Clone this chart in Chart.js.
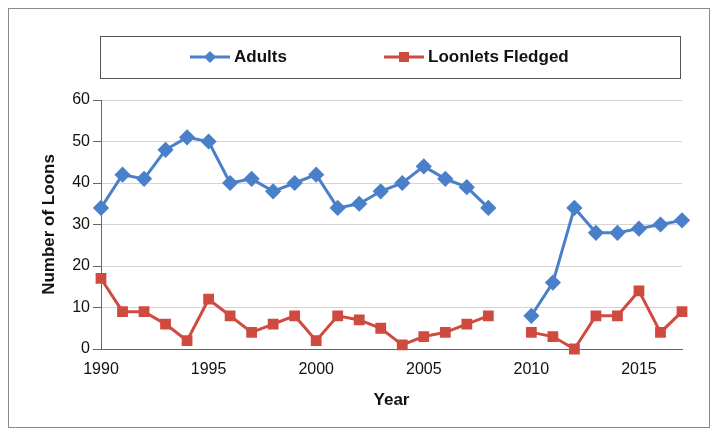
<!DOCTYPE html>
<html>
<head>
<meta charset="utf-8">
<script src="https://cdn.jsdelivr.net/npm/chart.js@4"></script>
<style>
  html, body { margin: 0; padding: 0; background: #fff; }
  #wrap { width: 717px; height: 435px; }
</style>
</head>
<body>
<div id="wrap"><canvas id="loonChart" width="717" height="435"></canvas></div>
<script>
const years = [1990, 1991, 1992, 1993, 1994, 1995, 1996, 1997, 1998, 1999, 2000, 2001, 2002, 2003,
  2004, 2005, 2006, 2007, 2008, 2009, 2010, 2011, 2012, 2013, 2014, 2015, 2016, 2017];
const adults = [34, 42, 41, 48, 51, 50, 40, 41, 38, 40, 42, 34, 35, 38,
  40, 44, 41, 39, 34, null, 8, 16, 34, 28, 28, 29, 30, 31];
const loonlets = [17, 9, 9, 6, 2, 12, 8, 4, 6, 8, 2, 8, 7, 5,
  1, 3, 4, 6, 8, null, 4, 3, 0, 8, 8, 14, 4, 9];
const seriesNames = ['Adults', 'Loonlets Fledged'];
const yearTicks = [1990, 1995, 2000, 2005, 2010, 2015];

const blue = '#4a7fc9';
const red = '#cf4a3f';
const fontFamily = '"Liberation Sans", Arial, sans-serif';

const toPoints = (vals) => years.map((y, i) => ({ x: y, y: vals[i] }));

// Frame and boxed legend drawn on top of the chart
const frameLegend = {
  id: 'frameLegend',
  afterDraw(chart) {
    const ctx = chart.ctx;
    ctx.save();
    ctx.strokeStyle = '#8a8a8a';
    ctx.lineWidth = 1;
    ctx.strokeRect(8.5, 8.5, 701, 419);
    ctx.strokeStyle = '#555';
    ctx.strokeRect(100.5, 36.5, 580, 42);

    const items = [
      { name: seriesNames[0], color: blue, shape: 'diamond', x: 190 },
      { name: seriesNames[1], color: red, shape: 'square', x: 384 }
    ];
    ctx.font = 'bold 17px ' + fontFamily;
    ctx.textBaseline = 'middle';
    items.forEach(it => {
      const cy = 57;
      ctx.strokeStyle = it.color;
      ctx.fillStyle = it.color;
      ctx.lineWidth = 3;
      ctx.beginPath();
      ctx.moveTo(it.x, cy);
      ctx.lineTo(it.x + 40, cy);
      ctx.stroke();
      const mx = it.x + 20;
      ctx.beginPath();
      if (it.shape === 'diamond') {
        ctx.moveTo(mx, cy - 6); ctx.lineTo(mx + 6, cy); ctx.lineTo(mx, cy + 6); ctx.lineTo(mx - 6, cy);
        ctx.closePath(); ctx.fill();
      } else {
        ctx.fillRect(mx - 5, cy - 5, 10, 10);
      }
      ctx.fillStyle = '#111';
      ctx.fillText(it.name, it.x + 44, cy);
    });
    ctx.restore();
  }
};

new Chart(document.getElementById('loonChart'), {
  type: 'line',
  data: {
    datasets: [
      {
        label: seriesNames[0],
        data: toPoints(adults),
        borderColor: blue,
        backgroundColor: blue,
        borderWidth: 3,
        pointStyle: 'rectRot',
        pointRadius: 6,
        pointHoverRadius: 6,
        spanGaps: false,
        clip: false,
        tension: 0
      },
      {
        label: seriesNames[1],
        data: toPoints(loonlets),
        borderColor: red,
        backgroundColor: red,
        borderWidth: 3,
        pointStyle: 'rect',
        pointRadius: 5.5,
        pointHoverRadius: 5.5,
        spanGaps: false,
        clip: false,
        tension: 0
      }
    ]
  },
  options: {
    responsive: false,
    animation: false,
    layout: { padding: { top: 100, right: 35, left: 35, bottom: 20 } },
    plugins: { legend: { display: false }, tooltip: { enabled: false } },
    scales: {
      x: {
        type: 'linear',
        min: 1990,
        max: 2017,
        afterFit: (s) => { s.height = 66; },
        afterBuildTicks: (s) => { s.ticks = yearTicks.map(v => ({ value: v })); },
        ticks: {
          color: '#111',
          font: { family: fontFamily, size: 16 },
          callback: (v) => String(v)
        },
        grid: { display: false, drawTicks: true },
        border: { color: '#666', width: 1 },
        title: {
          display: true,
          text: 'Year',
          color: '#111',
          font: { family: fontFamily, size: 17, weight: 'bold' },
          padding: { top: 6 }
        }
      },
      y: {
        min: 0,
        max: 60,
        afterFit: (s) => { s.width = 66; },
        ticks: {
          stepSize: 10,
          color: '#111',
          font: { family: fontFamily, size: 16 }
        },
        grid: { color: '#d4d4d4', drawTicks: true, tickColor: '#666' },
        border: { color: '#666', width: 1 },
        title: {
          display: true,
          text: 'Number of Loons',
          color: '#111',
          font: { family: fontFamily, size: 17, weight: 'bold' }
        }
      }
    }
  },
  plugins: [frameLegend]
});
</script>
</body>
</html>
